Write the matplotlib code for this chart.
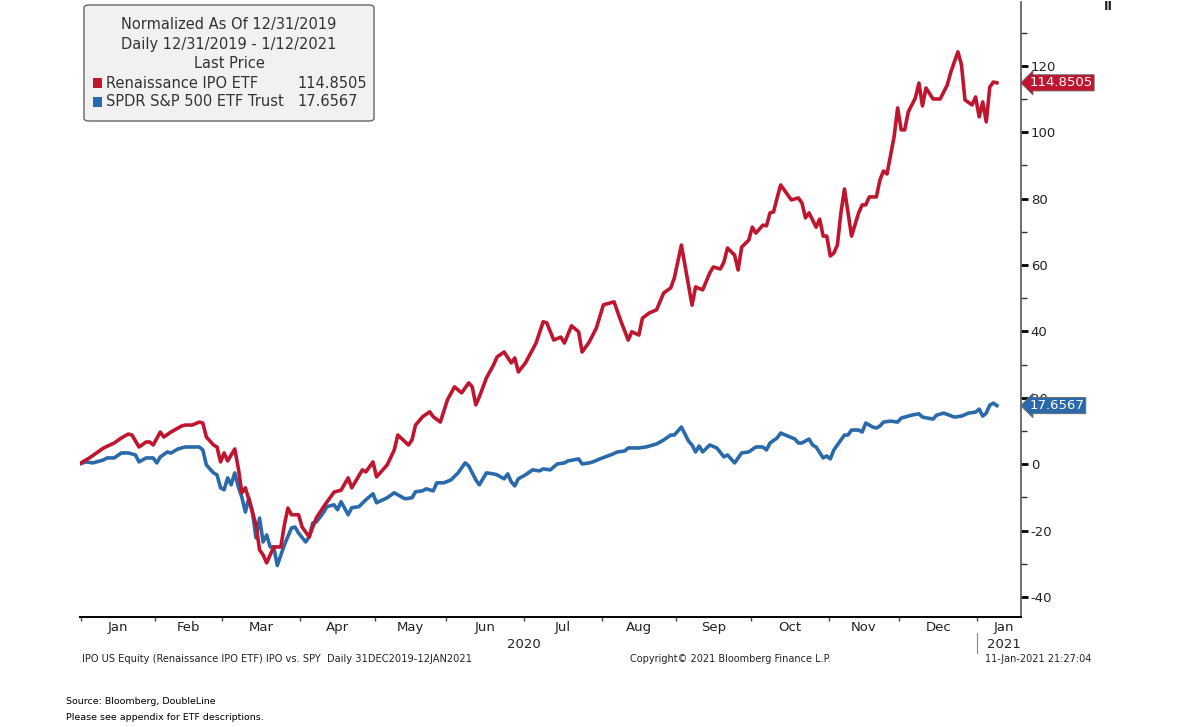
import numpy as np
import pandas as pd
import matplotlib
matplotlib.use('Agg')
import matplotlib.pyplot as plt
from matplotlib.patches import FancyBboxPatch, Rectangle
from matplotlib.transforms import blended_transform_factory

# ── DONNÉES (jour de bourse depuis le 31/12/2019, valeur normalisée) ────────
ipo_day = [0, 3, 7, 10, 12, 14, 15, 17, 19, 20, 21, 23, 24, 26, 29, 30, 32, 34, 35, 36,
           38, 39, 40, 41, 42, 44, 45, 46, 47, 48, 50, 51, 52, 53, 55, 57, 58, 59, 60, 62,
           63, 65, 66, 67, 69, 72, 74, 76, 77, 78, 80, 81, 83, 84, 87, 89, 90, 93, 94, 95,
           97, 99, 100, 102, 104, 106, 108, 110, 111, 112, 113, 115, 117, 118, 120, 122, 123, 124, 126, 129,
           131, 132, 134, 136, 137, 139, 141, 142, 144, 145, 146, 148, 151, 153, 155, 156, 158, 159, 161, 163,
           165, 167, 168, 170, 172, 173, 174, 176, 178, 179, 181, 182, 183, 185, 186, 187, 189, 190, 191, 193,
           194, 195, 196, 197, 198, 201, 203, 204, 205, 206, 208, 209, 210, 211, 212, 213, 214, 215, 216, 218,
           220, 221, 222, 223, 225, 226, 227, 228, 230, 231, 232, 233, 234, 236, 237, 238, 239, 241, 243, 245,
           246, 248, 249, 250, 252, 253, 254, 255, 256, 257, 258, 259]
ipo_val = [0.0, 1.9, 4.9, 6.4, 7.9, 9.1, 8.8, 5.2, 6.7, 6.7, 5.8, 9.7, 8.2, 9.7, 11.5, 11.8, 11.8, 12.7, 12.4, 8.2,
           5.8, 5.2, 0.7, 3.4, 1.0, 4.6, -1.1, -8.6, -7.1, -10.7, -18.3, -25.8, -27.3, -29.7, -24.9, -24.9, -18.3, -13.2, -15.2, -15.2,
           -18.9, -21.9, -18.9, -16.2, -12.9, -8.4, -7.8, -4.1, -7.1, -5.3, -1.7, -2.3, 0.7, -3.8, -0.2, 4.3, 8.8, 5.8, 7.3, 11.8,
           14.3, 15.8, 14.3, 12.7, 19.4, 23.3, 21.5, 24.5, 23.3, 17.9, 20.3, 26.0, 29.9, 32.3, 33.8, 30.5, 32.0, 27.8, 30.5, 36.5,
           42.9, 42.6, 37.4, 38.3, 36.5, 41.7, 39.9, 33.8, 36.8, 38.9, 41.0, 48.0, 48.9, 42.9, 37.4, 39.9, 38.9, 44.0, 45.6, 46.5,
           51.6, 53.1, 56.1, 66.0, 53.9, 47.9, 53.4, 52.5, 57.6, 59.4, 58.8, 60.9, 65.1, 63.0, 58.5, 65.4, 67.5, 71.4, 69.6, 72.0,
           71.8, 75.7, 76.0, 80.2, 84.1, 79.6, 80.2, 78.7, 74.2, 75.7, 71.4, 73.8, 68.7, 68.7, 62.7, 63.6, 66.0, 75.7, 82.9, 68.7,
           75.7, 78.1, 78.1, 80.5, 80.5, 85.6, 88.3, 87.4, 98.6, 107.3, 100.7, 100.7, 106.1, 110.3, 114.8, 107.9, 113.3, 110.0, 110.0, 114.2,
           118.1, 124.2, 120.3, 109.7, 108.2, 110.6, 104.6, 109.1, 103.1, 113.6, 115.1, 114.8505]

spy_day = [0, 2, 4, 7, 8, 10, 12, 14, 16, 17, 19, 21, 22, 23, 25, 26, 28, 30, 32, 34,
           35, 36, 38, 39, 40, 41, 42, 43, 44, 45, 46, 47, 48, 49, 50, 51, 52, 53, 54, 55,
           56, 58, 60, 61, 62, 64, 65, 66, 67, 69, 70, 72, 73, 74, 76, 77, 79, 81, 83, 84,
           87, 89, 90, 92, 94, 95, 97, 98, 100, 101, 103, 105, 107, 109, 110, 112, 113, 115, 117, 118,
           120, 121, 122, 123, 124, 126, 128, 130, 131, 133, 135, 137, 138, 141, 142, 144, 145, 147, 150, 152,
           154, 155, 158, 160, 163, 165, 167, 168, 170, 172, 173, 174, 175, 176, 178, 180, 182, 183, 185, 187,
           189, 191, 193, 194, 195, 197, 198, 200, 202, 203, 204, 206, 207, 208, 210, 211, 212, 213, 215, 216,
           217, 218, 220, 221, 222, 224, 225, 226, 227, 229, 231, 232, 235, 237, 238, 241, 242, 244, 247, 249,
           251, 253, 254, 255, 256, 257, 258, 259]
spy_val = [0.0, 0.7, 0.4, 1.3, 1.9, 1.9, 3.4, 3.4, 2.8, 0.7, 1.9, 1.9, 0.4, 2.2, 3.7, 3.4, 4.6, 5.2, 5.2, 5.2,
           4.3, -0.2, -2.6, -3.2, -7.1, -7.7, -4.1, -6.2, -2.6, -6.8, -9.9, -14.4, -10.1, -14.4, -22.2, -16.2, -23.4, -21.3, -24.9, -24.9,
           -30.5, -24.3, -19.2, -18.9, -20.7, -23.4, -21.9, -17.7, -17.4, -14.6, -12.8, -12.2, -13.7, -11.3, -15.2, -13.1, -12.8, -10.7, -8.9, -11.6,
           -10.1, -8.6, -9.2, -10.4, -10.1, -8.3, -8.0, -7.4, -8.0, -5.6, -5.6, -4.7, -2.6, 0.4, -0.5, -4.7, -6.2, -2.6, -2.9, -3.2,
           -4.4, -2.9, -5.3, -6.5, -4.4, -3.2, -1.7, -2.0, -1.4, -1.7, 0.1, 0.4, 1.0, 1.6, 0.1, 0.4, 0.7, 1.6, 2.8, 3.7,
           4.0, 4.9, 4.9, 5.2, 6.1, 7.3, 8.8, 8.8, 11.2, 7.0, 5.8, 3.7, 5.5, 3.7, 5.8, 4.9, 2.2, 2.8, 0.4, 3.4,
           3.7, 5.2, 5.2, 4.3, 6.4, 7.9, 9.4, 8.5, 7.6, 6.4, 6.4, 7.6, 5.8, 5.2, 1.9, 2.5, 1.6, 4.3, 7.3, 8.8,
           8.8, 10.3, 10.3, 9.7, 12.4, 11.2, 10.9, 11.5, 12.7, 13.0, 12.7, 13.9, 14.8, 15.2, 14.2, 13.6, 14.8, 15.4, 14.2, 14.5,
           15.4, 15.7, 16.6, 14.5, 15.4, 17.8, 18.4, 17.6567]

ipo_label = 'Renaissance IPO ETF'
spy_label = 'SPDR S&P 500 ETF Trust'
ipo_last = '114.8505'
spy_last = '17.6567'

holidays = ['2020-01-01', '2020-01-20', '2020-02-17', '2020-04-10', '2020-05-25',
            '2020-07-03', '2020-09-07', '2020-11-26', '2020-12-25', '2021-01-01']
y_major = [-40, -20, 0, 20, 40, 60, 80, 100, 120]
y_minor = [-30, -10, 10, 30, 50, 70, 90, 110, 130]

RED = '#C0152F'
BLUE = '#2B6AAA'
W, H = 1183, 727

# calendrier des jours de bourse
days = pd.bdate_range('2019-12-31', '2021-01-12')
days = days[~days.isin(pd.to_datetime(holidays))]
months = days.to_period('M')
starts = [i for i in range(1, len(days)) if months[i] != months[i - 1]]
bounds = [s - 0.5 for s in starts]
centers = [(bounds[i] + bounds[i + 1]) / 2 for i in range(len(bounds) - 1)]
centers.append(bounds[-1] + 7.5)
mlabels = [days[s].strftime('%b') for s in starts]


def fx(x):
    return x / W


def fy(y):
    return 1 - y / H


fig = plt.figure(figsize=(W / 100, H / 100), dpi=100)
ax = fig.add_axes([fx(80), fy(617), fx(1021) - fx(80), fy(2) - fy(617)])

ax.plot(spy_day, spy_val, color=BLUE, lw=2.6, solid_joinstyle='round', zorder=3)
ax.plot(ipo_day, ipo_val, color=RED, lw=2.6, solid_joinstyle='round', zorder=4)

ax.set_xlim(0.35, 265.8)
ax.set_ylim(-46.0, 139.2)

for s in ['left', 'top']:
    ax.spines[s].set_visible(False)
ax.spines['bottom'].set_linewidth(1.4)
ax.spines['right'].set_linewidth(1.2)
ax.spines['right'].set_color('#555555')

ax.yaxis.tick_right()
ax.set_yticks(y_major)
ax.set_yticks(y_minor, minor=True)
ax.set_yticklabels([str(v) for v in y_major])
ax.tick_params(axis='y', which='major', length=5, width=2, colors='black',
               labelsize=9.5, labelcolor='#222222', pad=2)
ax.tick_params(axis='y', which='minor', length=4, width=1, colors='#333333')

ax.set_xticks(bounds)
ax.set_xticklabels([])
ax.set_xticks(centers, minor=True)
ax.set_xticklabels(mlabels, minor=True)
ax.tick_params(axis='x', which='major', length=3, width=1, colors='#444444')
ax.tick_params(axis='x', which='minor', length=0, labelsize=9.5, labelcolor='#222222', pad=3)

trans = blended_transform_factory(ax.transData, fig.transFigure)
ax.text((0.5 + bounds[-1]) / 2 - 1.5, fy(644), '2020', transform=trans, ha='center', va='center',
        fontsize=9.5, color='#222222')
ax.text(centers[-1], fy(645), '2021', transform=trans, ha='center', va='center',
        fontsize=9.5, color='#222222')
ax.plot([bounds[-1], bounds[-1]], [fy(633), fy(653)], transform=trans, color='#888888',
        lw=0.8, clip_on=False)

# étiquettes de dernier prix
for val, txt, col in [(ipo_val[-1], ipo_last, RED), (spy_val[-1], spy_last, BLUE)]:
    ax.annotate(txt, xy=(1.0, val), xycoords=('axes fraction', 'data'),
                xytext=(6, 0), textcoords='offset points', ha='left', va='center',
                fontsize=9.5, color='white', zorder=6, annotation_clip=False,
                bbox=dict(boxstyle='larrow,pad=0.12', fc=col, ec='#666666', lw=0.6))

# boîte de légende
fig.patches.append(FancyBboxPatch((fx(84), fy(121)), fx(374) - fx(84), fy(5) - fy(121),
                                  boxstyle='round,pad=0,rounding_size=0.004',
                                  transform=fig.transFigure, fc='#F1F1F1', ec='#666666', lw=1.0))
lc = '#333333'
fig.text(fx(229), fy(24), 'Normalized As Of 12/31/2019', ha='center', va='center', fontsize=10.5, color=lc)
fig.text(fx(229), fy(44), 'Daily 12/31/2019 - 1/12/2021', ha='center', va='center', fontsize=10.5, color=lc)
fig.text(fx(229), fy(63), 'Last Price', ha='center', va='center', fontsize=10.5, color=lc)
for yy, lab, last, col in [(83, ipo_label, ipo_last, RED), (102, spy_label, spy_last, BLUE)]:
    fig.patches.append(Rectangle((fx(93), fy(yy + 5)), fx(9), fy(0) - fy(10),
                                 transform=fig.transFigure, fc=col, ec='none'))
    fig.text(fx(106), fy(yy), lab, ha='left', va='center', fontsize=10.5, color=lc)
    fig.text(fx(297), fy(yy), last, ha='left', va='center', fontsize=10.5, color=lc)

# mentions
fig.text(fx(82), fy(659), 'IPO US Equity (Renaissance IPO ETF) IPO vs. SPY  Daily 31DEC2019-12JAN2021',
         ha='left', va='center', fontsize=7.1, color='#222222')
fig.text(fx(630), fy(659), 'Copyright\u00a9 2021 Bloomberg Finance L.P.',
         ha='left', va='center', fontsize=7.0, color='#222222')
fig.text(fx(985), fy(659), '11-Jan-2021 21:27:04', ha='left', va='center', fontsize=7.0, color='#222222')
fig.text(fx(66), fy(701), 'Source: Bloomberg, DoubleLine', ha='left', va='center', fontsize=6.8, color='black')
fig.text(fx(66), fy(718), 'Please see appendix for ETF descriptions.', ha='left', va='center',
         fontsize=6.8, color='black')
fig.text(fx(1108), fy(0), 'II', ha='center', va='top', fontsize=9, fontweight='bold', color='#222222')

fig.savefig('out.png', dpi=100)
